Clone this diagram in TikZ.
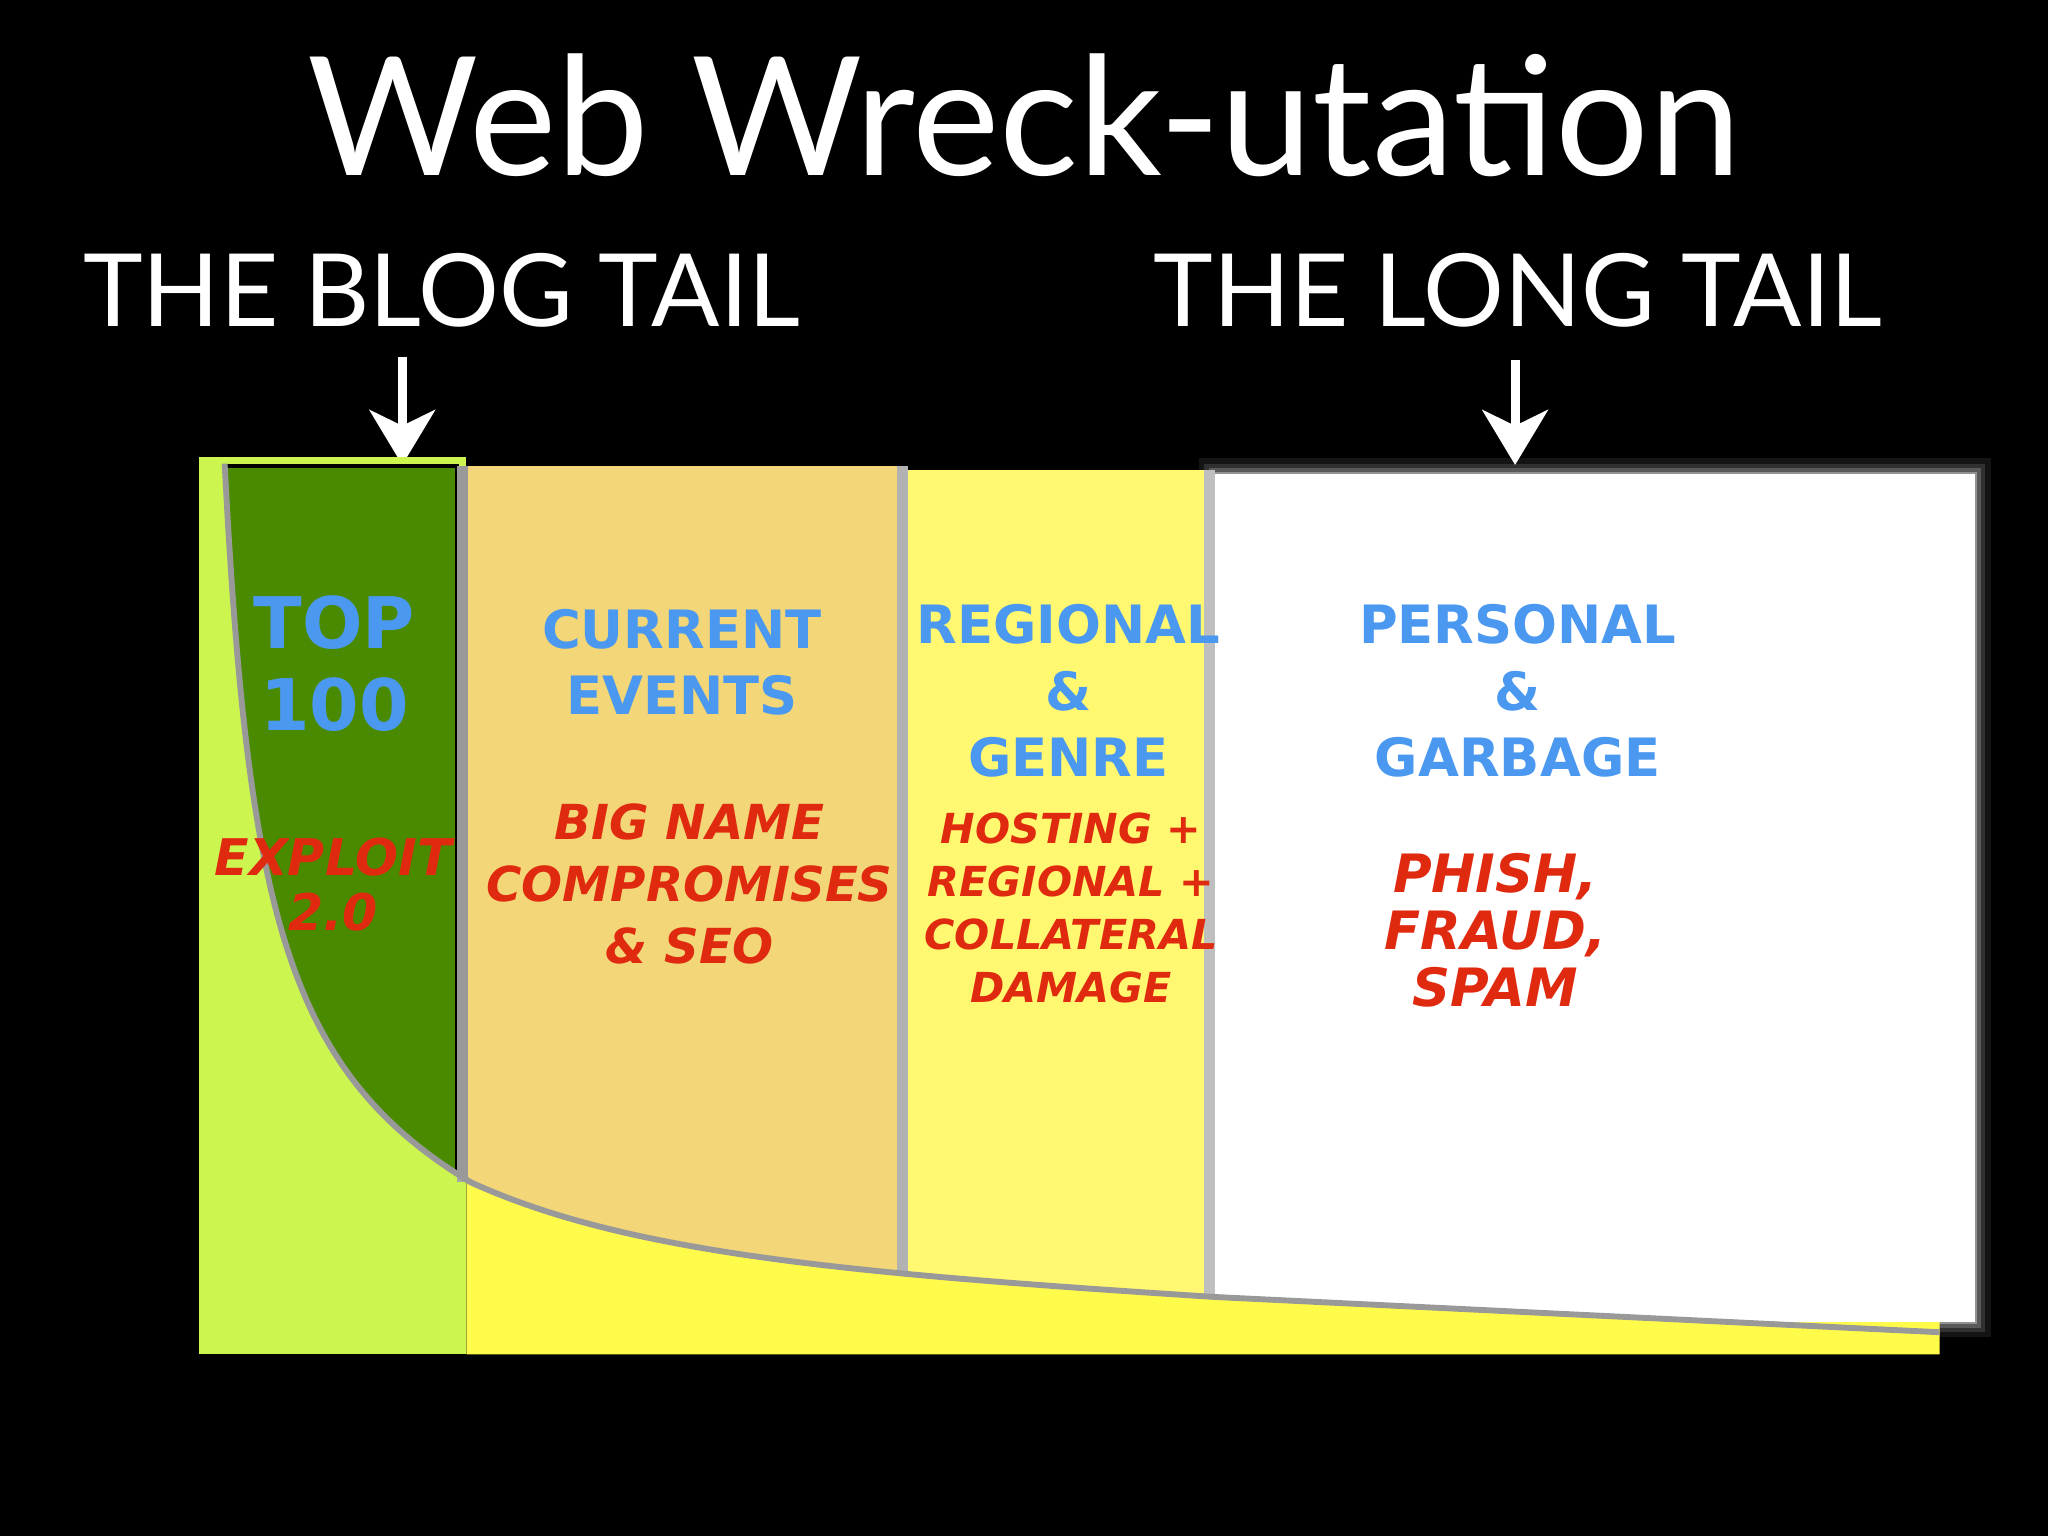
\documentclass[tikz,border=0pt]{standalone}
\usepackage{fontspec}
\setmainfont{Lato}
\newfontfamily\heavy{DejaVu Sans}
\usetikzlibrary{arrows.meta}
\definecolor{lime}{HTML}{CCF550}
\definecolor{dgreen}{HTML}{4A8A00}
\definecolor{tan}{HTML}{F2D677}
\definecolor{ylw}{HTML}{FFF870}
\definecolor{byl}{HTML}{FFFB4A}
\definecolor{bl}{HTML}{4A98F0}
\definecolor{rd}{HTML}{E02A10}
\tikzset{
  head/.style={text=white,font=\fontsize{22}{26}\selectfont,inner sep=0},
  cat/.style={text=bl,font=\heavy\bfseries\fontsize{11.5}{14.5}\selectfont,align=center,inner sep=0},
  sub/.style={text=rd,font=\heavy\bfseries\itshape\fontsize{10.5}{13.5}\selectfont,align=center,inner sep=0},
  downarrow/.style={white,line width=0.07cm,-{Stealth[length=0.42cm,width=0.5cm,inset=0.12cm]}}
}
\begin{document}
\begin{tikzpicture}[x=0.01cm,y=-0.01cm]
\fill[black] (0,0) rectangle (1568,1176);
\useasboundingbox (0,0) rectangle (1568,1176);
\node[text=white,font=\fontsize{36}{40}\selectfont,inner sep=0] (title) at (784,88) {Web Wreck-utation};
\node[head] (blog) at (338,222) {THE BLOG TAIL};
\node[head] (long) at (1162,222) {THE LONG TAIL};
\coordinate (a1s) at (308,273); \coordinate (a1e) at (308,356);
\coordinate (a2s) at (1160,276); \coordinate (a2e) at (1160,356);
\draw[downarrow] (a1s) -- (a1e);
\draw[downarrow] (a2s) -- (a2e);
% glow for white panel
\foreach \w/\o in {24/0.08,16/0.12,9/0.2,4/0.35}{
  \draw[white,opacity=\o,line width=\w*0.01cm] (930,363) rectangle (1512,1012);}
% base areas
\fill[lime] (152,350) rectangle (357,1037);
\fill[byl] (357,870) -- (1485,1010) -- (1485,1037) -- (357,1037) -- cycle;
\fill[gray!70] (350,357) rectangle (357,905);
\begin{scope}
\clip (172,340) -- (172,355) .. controls (190,700) and (220,820) .. (360,905)
  .. controls (480,960) and (650,975) .. (930,993) -- (1485,1020) -- (1530,1020) -- (1530,340) -- cycle;
\fill[dgreen] (172,357) rectangle (350,1000);
\draw[black,line width=0.03cm] (172,357) rectangle (350,1000);
\fill[gray!80] (350,357) rectangle (358,1000);
\fill[tan] (358,357) rectangle (687,1000);
\fill[gray!60] (687,357) rectangle (695,1000);
\fill[ylw] (695,360) rectangle (922,1000);
\fill[gray!50] (922,360) rectangle (930,1010);
\fill[white] (930,363) rectangle (1512,1012);
\end{scope}
\draw[gray!80,line width=0.045cm] (172,355) .. controls (190,700) and (220,820) .. (360,905)
  .. controls (480,960) and (650,975) .. (930,993) -- (1485,1020);
% texts
\node[cat,font=\heavy\bfseries\fontsize{15.5}{18}\selectfont] (top) at (256,508) {TOP\\100};
\node[sub,font=\heavy\bfseries\itshape\fontsize{11}{12}\selectfont] (expl) at (255,677) {EXPLOIT\\2.0};
\node[cat] (cur) at (522,507) {CURRENT\\EVENTS};
\node[sub] (big) at (528,677) {BIG NAME\\COMPROMISES\\\& SEO};
\node[cat] (reg) at (818,529) {REGIONAL\\\&\\GENRE};
\node[sub,font=\heavy\bfseries\itshape\fontsize{9}{11.5}\selectfont] (host) at (820,695) {HOSTING +\\REGIONAL +\\COLLATERAL\\DAMAGE};
\node[cat] (per) at (1162,529) {PERSONAL\\\&\\GARBAGE};
\node[sub,font=\heavy\bfseries\itshape\fontsize{11.5}{12.4}\selectfont] (phish) at (1145,712) {PHISH,\\FRAUD,\\SPAM};
\end{tikzpicture}
\end{document}
